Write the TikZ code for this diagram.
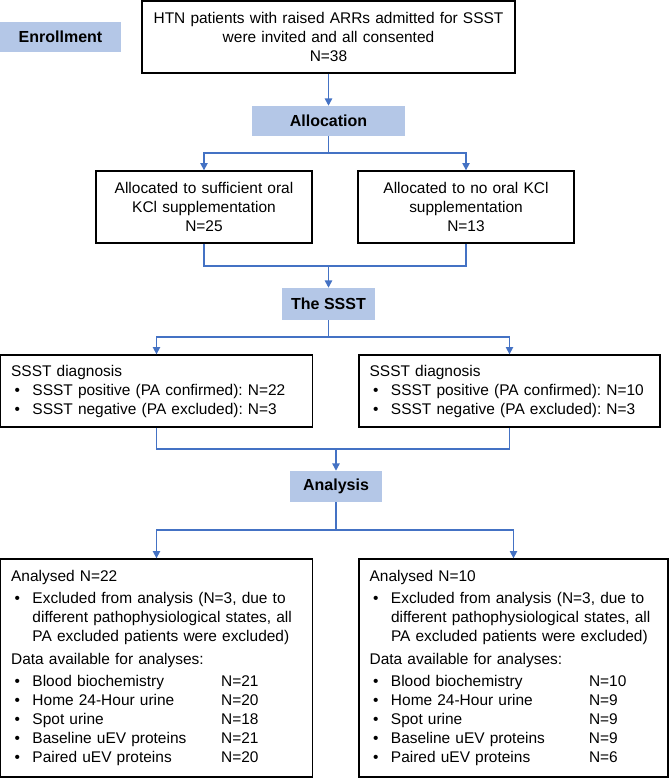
\documentclass[tikz,border=0pt]{standalone}
\usepackage{fontspec}
\setmainfont{Liberation Sans}
\usetikzlibrary{arrows.meta}

\definecolor{labblue}{HTML}{B4C7E7}
\definecolor{linkblue}{HTML}{4472C4}

\frenchspacing
\newcommand{\itm}{\hspace*{2.5pt}\makebox[13.5pt][l]{\textbullet}}
\newcommand{\ind}{\hspace*{16pt}}
\newcommand{\dat}[3][141.5pt]{\itm\makebox[#1][l]{#2}#3}

\begin{document}
\begin{tikzpicture}[x=0.75pt, y=-0.75pt,
    box/.style={draw=black, line width=1pt, inner xsep=8pt, inner ysep=0pt,
        font=\fontsize{11.6}{14.25}\selectfont},
    mid/.style={box, align=center},
    lft/.style={box, align=left},
    lab/.style={fill=labblue, inner sep=0pt, font=\fontsize{12}{14}\selectfont\bfseries},
    conn/.style={draw=linkblue, line width=1.1pt},
    arr/.style={conn, -{Triangle[length=5.5pt,width=5.5pt]}}]

    \useasboundingbox (0,0) rectangle (669,783);

    % stage labels
    \node[lab, minimum width=90.75pt, minimum height=22.5pt] (enrol) at (60.5,37) {Enrollment};
    \node[lab, minimum width=114.75pt, minimum height=22.5pt] (alloc) at (328.5,121) {Allocation};
    \node[lab, minimum width=69.75pt, minimum height=24pt] (ssst) at (328.5,304) {The SSST};
    \node[lab, minimum width=69pt, minimum height=23.25pt] (analysis) at (336,486.5) {Analysis};

    % boxes
    \node[mid, text width=263.75pt, minimum height=54pt] (top) at (328.5,37)
        {HTN patients with raised ARRs admitted for SSST\\ were invited and all consented\\ N=38};

    \node[mid, text width=146pt, minimum height=54pt] (kcl) at (204,207)
        {Allocated to sufficient oral\\ KCl supplementation\\ N=25};
    \node[mid, text width=146pt, minimum height=54pt] (nokcl) at (466,207)
        {Allocated to no oral KCl\\ supplementation\\ N=13};

    \node[lft, text width=218pt, minimum height=54pt] (diagA) at (156.5,391)
        {SSST diagnosis\\
         \itm SSST positive (PA confirmed): N=22\\
         \itm SSST negative (PA excluded): N=3};
    \node[lft, text width=209.75pt, minimum height=54pt] (diagB) at (509.5,391)
        {SSST diagnosis\\
         \itm SSST positive (PA confirmed): N=10\\
         \itm SSST negative (PA excluded): N=3};

    \node[lft, text width=218pt, minimum height=163.5pt] (resA) at (156.5,668)
        {Analysed N=22\\[2pt]
         \itm Excluded from analysis (N=3, due to\\
         \ind different pathophysiological states, all\\
         \ind PA excluded patients were excluded)\\[3pt]
         Data available for analyses:\\[2pt]
         \dat{Blood biochemistry}{N=21}\\
         \dat{Home 24-Hour urine}{N=20}\\
         \dat{Spot urine}{N=18}\\
         \dat{Baseline uEV proteins}{N=21}\\
         \dat{Paired uEV proteins}{N=20}};
    \node[lft, text width=215.75pt, minimum height=163.5pt] (resB) at (513.5,668)
        {Analysed N=10\\[2pt]
         \itm Excluded from analysis (N=3, due to\\
         \ind different pathophysiological states, all\\
         \ind PA excluded patients were excluded)\\[3pt]
         Data available for analyses:\\[2pt]
         \dat[148.5pt]{Blood biochemistry}{N=10}\\
         \dat[148.5pt]{Home 24-Hour urine}{N=9}\\
         \dat[148.5pt]{Spot urine}{N=9}\\
         \dat[148.5pt]{Baseline uEV proteins}{N=9}\\
         \dat[148.5pt]{Paired uEV proteins}{N=6}};

    % connectors
    \coordinate (s1) at (328.5,153);
    \coordinate (j1) at (328.5,266);
    \coordinate (s2) at (328.5,337);
    \coordinate (j2) at (336,449);
    \coordinate (s3) at (336,530);

    \draw[arr] (top) -- (alloc);
    \draw[conn] (alloc) -- (s1);
    \foreach \b in {kcl,nokcl}
        \draw[arr] (s1) -| (\b);
    \foreach \b in {kcl,nokcl}
        \draw[conn] (\b) |- (j1);
    \draw[arr] (j1) -- (ssst);

    \draw[conn] (ssst) -- (s2);
    \foreach \b in {diagA,diagB}
        \draw[arr] (s2) -| (\b);
    \foreach \b in {diagA,diagB}
        \draw[conn] (\b) |- (j2);
    \draw[arr] (j2) -- (analysis);

    \draw[conn] (analysis) -- (s3);
    \foreach \b in {resA,resB}
        \draw[arr] (s3) -| (\b);
\end{tikzpicture}
\end{document}
